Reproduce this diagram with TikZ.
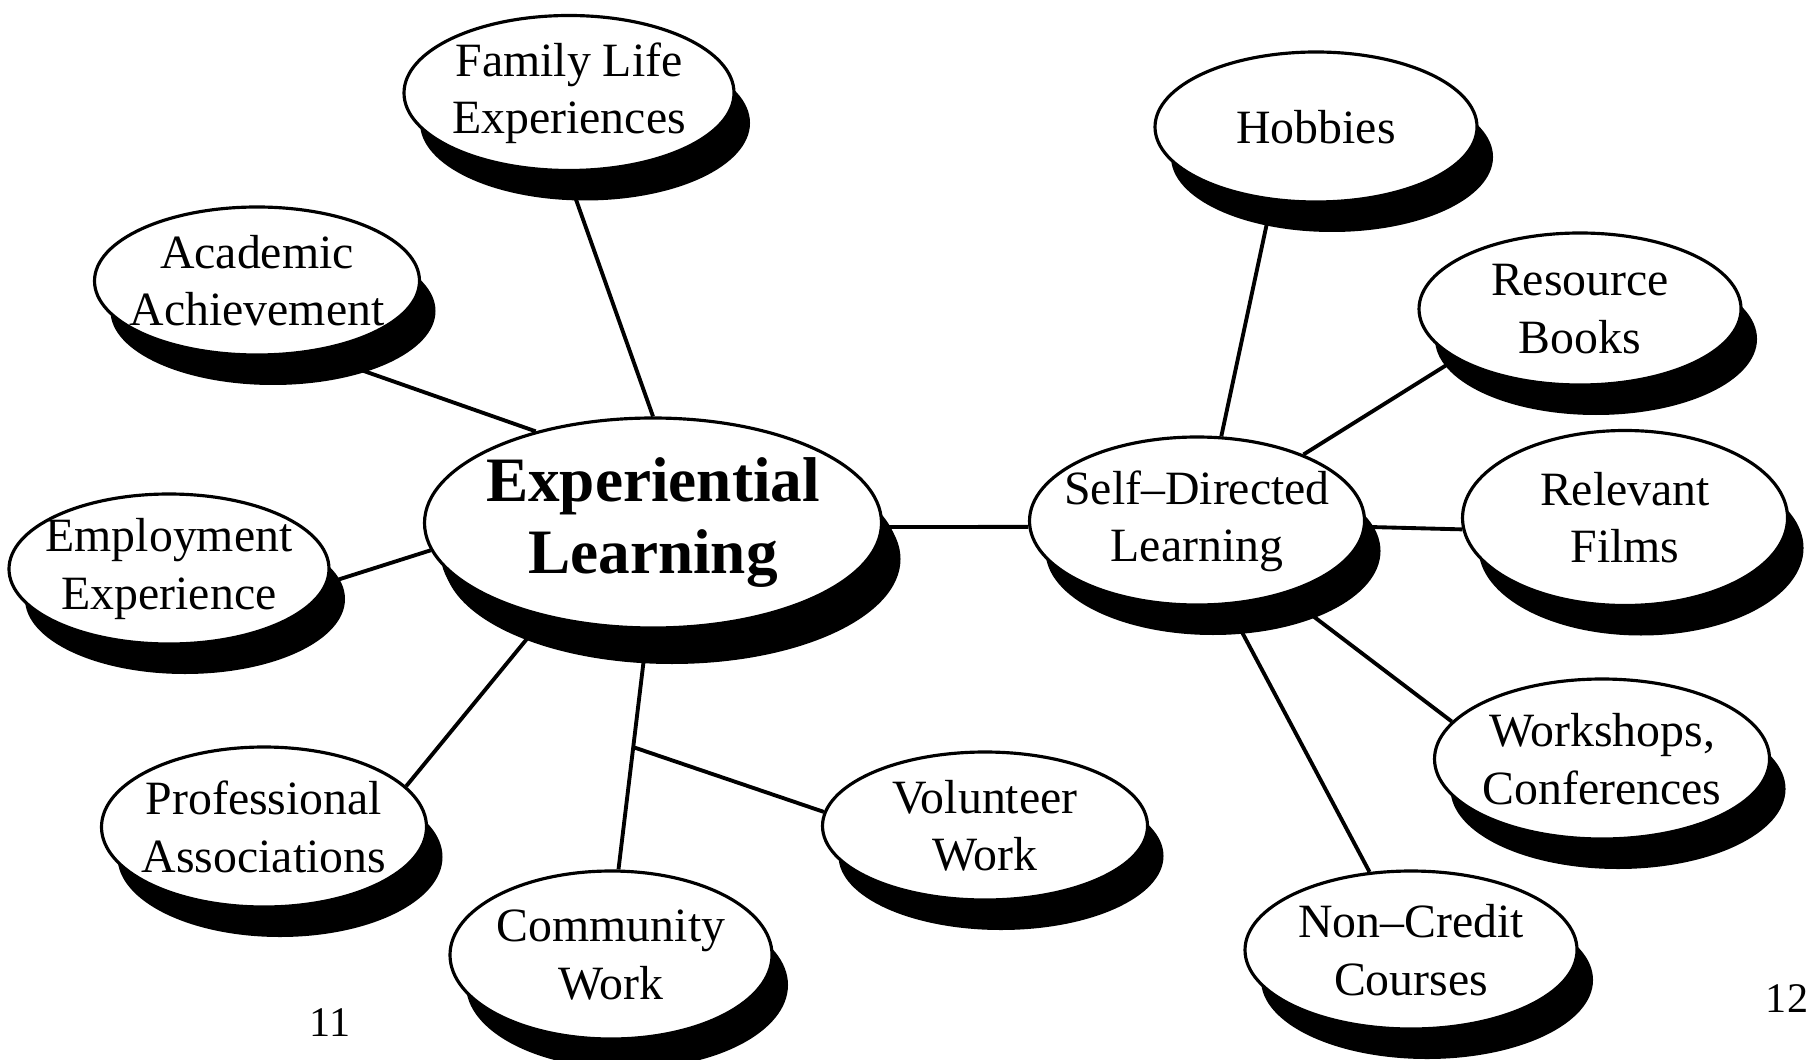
\documentclass[tikz,border=0pt]{standalone}
\usepackage{fontspec}
\setmainfont{Liberation Serif}
\usetikzlibrary{shapes.geometric,shadows,backgrounds}

\begin{document}
\begin{tikzpicture}[x=1cm,y=1cm,
  topic/.style={ellipse,draw,line width=0.9pt,fill=white,inner xsep=-0.25cm,inner ysep=-0.1cm,align=center,
    font=\fontsize{13.6}{16.3}\selectfont,
    drop shadow={shadow xshift=0.16cm,shadow yshift=-0.30cm,fill=black,opacity=1}},
  link/.style={line width=1.1pt}]
\path[use as bounding box] (0,0) rectangle (18.17,10.59);
\node[topic,minimum width=4.57cm,minimum height=2.10cm,font=\bfseries\fontsize{18}{20.5}\selectfont,
  drop shadow={shadow xshift=0.19cm,shadow yshift=-0.36cm,fill=black,opacity=1}] (exp) at (6.53,5.36) {Experiential\\Learning};
\node[topic,minimum width=3.30cm,minimum height=1.55cm] (fam) at (5.69,9.66) {Family Life\\Experiences};
\node[topic,minimum width=3.25cm,minimum height=1.48cm] (aca) at (2.57,7.78) {Academic\\Achievement};
\node[topic,minimum width=3.20cm,minimum height=1.50cm] (emp) at (1.69,4.90) {Employment\\Experience};
\node[topic,minimum width=3.25cm,minimum height=1.60cm] (pro) at (2.64,2.32) {Professional\\Associations};
\node[topic,minimum width=3.22cm,minimum height=1.68cm] (com) at (6.11,1.04) {Community\\Work};
\node[topic,minimum width=3.25cm,minimum height=1.48cm] (vol) at (9.85,2.33) {Volunteer\\Work};
\node[topic,minimum width=3.35cm,minimum height=1.68cm] (sdl) at (11.97,5.38) {Self--Directed\\Learning};
\node[topic,minimum width=3.22cm,minimum height=1.50cm] (hob) at (13.16,9.32) {Hobbies};
\node[topic,minimum width=3.22cm,minimum height=1.52cm] (res) at (15.80,7.50) {Resource\\Books};
\node[topic,minimum width=3.25cm,minimum height=1.75cm] (rel) at (16.25,5.41) {Relevant\\Films};
\node[topic,minimum width=3.35cm,minimum height=1.60cm] (wor) at (16.02,3.00) {Workshops,\\Conferences};
\node[topic,minimum width=3.32cm,minimum height=1.58cm] (non) at (14.11,1.09) {Non--Credit\\Courses};
\node[font=\fontsize{12}{14}\selectfont] (pgleft) at (3.30,0.36) {11};
\node[font=\fontsize{12}{14}\selectfont] (pgright) at (17.87,0.60) {12};
\begin{scope}[on background layer]
\draw[link] (exp.90) -- (fam.-92);
\draw[link] (exp.142) -- (aca.-53);
\draw[link] (exp.187) -- (emp.-5);
\draw[link] (exp.221) -- (pro.16);
\draw[link] (exp.-93) -- coordinate[pos=0.49] (fork) (com.85);
\draw[link] (fork) -- (vol.175);
\draw[link] (exp.-1) -- (sdl.182);
\draw[link] (sdl.74) -- (hob.-121);
\draw[link] (sdl.32) -- (res.202);
\draw[link] (sdl.-2) -- (rel.184);
\draw[link] (sdl.-40) -- (wor.166);
\draw[link] (sdl.-70) -- (non.118);
\end{scope}
\end{tikzpicture}
\end{document}
